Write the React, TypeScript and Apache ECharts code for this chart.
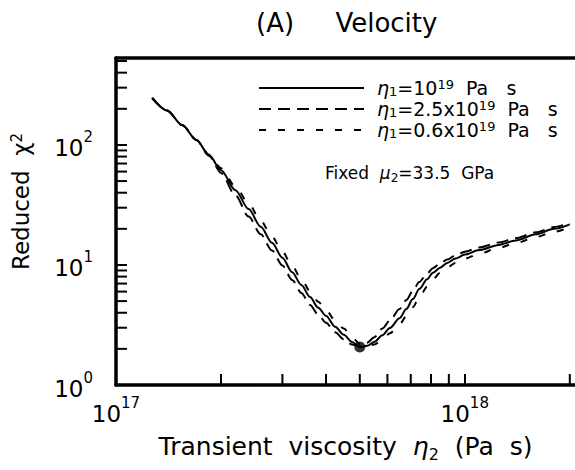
import React, { useEffect, useRef } from "react";
import * as echarts from "echarts";

// Transient viscosity eta_2 (Pa s)
const ETA2 = [
  1.27e17, 1.4e17, 1.55e17, 1.7e17, 1.85e17, 2.0e17, 2.2e17, 2.4e17, 2.6e17, 2.8e17,
  3.0e17, 3.2e17, 3.4e17, 3.6e17, 3.8e17, 4.0e17, 4.25e17, 4.5e17, 4.75e17, 5.0e17,
  5.25e17, 5.5e17, 5.8e17, 6.1e17, 6.5e17, 6.8e17, 7.1e17, 7.4e17, 7.8e17, 8.1e17,
  8.5e17, 8.9e17, 9.4e17, 1.0e18, 1.1e18, 1.25e18, 1.4e18, 1.6e18, 1.8e18, 2.0e18,
];
// Reduced chi^2, eta_1 = 1e19 Pa s (solid)
const CHI_ETA1_1 = [
  246, 194, 146, 110, 82, 61.4, 42, 29.2, 20.8, 15.3,
  11.5, 8.7, 6.8, 5.4, 4.4, 3.77, 3.05, 2.62, 2.28, 2.07,
  2.12, 2.28, 2.6, 2.99, 3.6, 4.3, 5.2, 6.3, 7.6, 8.6,
  9.5, 10.4, 11.3, 12.2, 13.3, 14.7, 16.0, 18.0, 20.0, 21.8,
];
// eta_1 = 2.5e19 Pa s (long dashes)
const CHI_ETA1_2_5 = [
  246, 194, 146, 110, 81, 58.5, 38, 25.3, 18, 13.2,
  9.9, 7.5, 5.85, 4.65, 3.85, 3.3, 2.75, 2.4, 2.17, 2.1,
  2.25, 2.5, 2.95, 3.45, 4.3, 5.1, 6.1, 7.2, 8.5, 9.4,
  10.3, 11.1, 12.0, 12.9, 14.0, 15.4, 16.7, 18.7, 20.7, 22.4,
];
// eta_1 = 0.6e19 Pa s (short dashes)
const CHI_ETA1_0_6 = [
  246, 194, 146, 110, 83, 64, 45, 32.5, 23.3, 17.2,
  12.9, 9.8, 7.6, 6.05, 4.95, 4.2, 3.45, 2.95, 2.5, 2.2,
  2.1, 2.17, 2.38, 2.7, 3.2, 3.75, 4.45, 5.35, 6.6, 7.6,
  8.6, 9.5, 10.4, 11.3, 12.4, 13.9, 15.2, 17.1, 18.9, 20.6,
];
const BEST_FIT = [5.0e17, 2.07];

const SERIES_NAMES = ["eta1=1e19 Pa s", "eta1=2.5e19 Pa s", "eta1=0.6e19 Pa s"];
const LEGEND_LABELS = [
  "{e|η}{sub|1}{t|=10}{sup|19}{t|  Pa   s}",
  "{e|η}{sub|1}{t|=2.5x10}{sup|19}{t|  Pa   s}",
  "{e|η}{sub|1}{t|=0.6x10}{sup|19}{t|  Pa   s}",
];

const X_MIN = 1e17;
const X_MAX = 2.07e18;
const Y_MIN = 1;
const Y_MAX = 530;
const X_MINOR_TICKS = [2e17, 3e17, 4e17, 5e17, 6e17, 7e17, 8e17, 9e17, 2e18];
const Y_MINOR_TICKS = [2, 3, 4, 5, 6, 7, 8, 9, 20, 30, 40, 50, 60, 70, 80, 90, 200, 300, 400, 500];

const FONT = "DejaVu Sans";
const TICK_LEN = 11;

const supLabel = (v: number) => {
  const e = Math.log10(v);
  if (Math.abs(e - Math.round(e)) > 1e-6) return "";
  return `{b|10}{s|${Math.round(e)}}`;
};

export default function App() {
  const ref = useRef<HTMLDivElement>(null);
  useEffect(() => {
    if (!ref.current) return;
    const chart = echarts.init(ref.current, null, { renderer: "svg" });
    const pairs = (ys: number[]) => ETA2.map((x, i) => [x, ys[i]]);
    const lineBase = {
      type: "line" as const,
      showSymbol: false,
      symbol: "none",
      smooth: 0.3,
      smoothMonotone: "x" as const,
      silent: true,
      z: 3,
    };
    const tickLabelRich = {
      b: { fontFamily: FONT, fontSize: 23, color: "#000", lineHeight: 30, verticalAlign: "bottom" as const },
      s: { fontFamily: FONT, fontSize: 15, color: "#000", lineHeight: 20, verticalAlign: "top" as const },
    };
    chart.setOption({
      animation: false,
      backgroundColor: "#fff",
      title: {
        text: "(A)     Velocity",
        left: 251,
        top: 5,
        textStyle: { fontFamily: FONT, fontSize: 26, fontWeight: "normal", color: "#000" },
      },
      grid: { left: 116, right: 0, top: 58, bottom: 85, containLabel: false, outerBoundsMode: "none" },
      legend: {
        data: SERIES_NAMES,
        orient: "vertical",
        left: 253,
        top: 73,
        itemWidth: 105,
        itemHeight: 12,
        itemGap: 1,
        itemStyle: { opacity: 0 },
        formatter: (name: string) => LEGEND_LABELS[SERIES_NAMES.indexOf(name)],
        textStyle: {
          padding: [0, 0, 0, 8],
          rich: {
            e: { fontFamily: FONT, fontSize: 19, fontStyle: "italic", color: "#000", lineHeight: 20 },
            t: { fontFamily: FONT, fontSize: 19, color: "#000", lineHeight: 20 },
            sub: { fontFamily: FONT, fontSize: 13, color: "#000", lineHeight: 12, verticalAlign: "bottom" },
            sup: { fontFamily: FONT, fontSize: 13, color: "#000", lineHeight: 16, verticalAlign: "top" },
          },
        },
      },
      xAxis: [
        {
          type: "log",
          min: X_MIN,
          max: X_MAX,
          logBase: 10,
          name: "Transient  viscosity  {e|η}{sub|2}  (Pa  s)",
          nameLocation: "middle",
          nameGap: 45,
          nameTextStyle: {
            fontFamily: FONT,
            fontSize: 25,
            color: "#000",
            rich: {
              e: { fontFamily: FONT, fontSize: 25, fontStyle: "italic", color: "#000", lineHeight: 32 },
              sub: { fontFamily: FONT, fontSize: 16, color: "#000", lineHeight: 22, verticalAlign: "bottom" },
            },
          },
          axisLine: { show: true, lineStyle: { color: "#000", width: 3.5 } },
          axisTick: { show: true, inside: true, length: TICK_LEN, lineStyle: { color: "#000", width: 2 } },
          axisLabel: { formatter: supLabel, margin: 10, rich: tickLabelRich, showMaxLabel: false },
          splitLine: { show: false },
          minorTick: { show: false },
        },
        {
          type: "log",
          position: "top",
          min: X_MIN,
          max: X_MAX,
          axisLine: { show: true, lineStyle: { color: "#000", width: 3.5 } },
          axisTick: { show: false },
          axisLabel: { show: false },
          splitLine: { show: false },
        },
      ],
      yAxis: {
        type: "log",
        min: Y_MIN,
        max: Y_MAX,
        logBase: 10,
        name: "Reduced  χ{sup|2}",
        nameLocation: "middle",
        nameGap: 84,
        nameTextStyle: {
          fontFamily: FONT,
          fontSize: 23,
          color: "#000",
          padding: [0, 0, 0, 40],
          rich: {
            sup: { fontFamily: FONT, fontSize: 15, color: "#000", lineHeight: 22, verticalAlign: "top" },
          },
        },
        axisLine: { show: true, lineStyle: { color: "#000", width: 3.5 } },
        axisTick: { show: true, inside: true, length: TICK_LEN, lineStyle: { color: "#000", width: 2 } },
        axisLabel: { formatter: supLabel, margin: 23, rich: tickLabelRich, showMaxLabel: false },
        splitLine: { show: false },
      },
      series: [
        {
          ...lineBase,
          name: SERIES_NAMES[0],
          data: pairs(CHI_ETA1_1),
          lineStyle: { color: "#000", width: 2, type: "solid" },
          itemStyle: { color: "#000" },
        },
        {
          ...lineBase,
          name: SERIES_NAMES[1],
          data: pairs(CHI_ETA1_2_5),
          lineStyle: { color: "#000", width: 2, type: [12, 7] },
          itemStyle: { color: "#000" },
        },
        {
          ...lineBase,
          name: SERIES_NAMES[2],
          data: pairs(CHI_ETA1_0_6),
          lineStyle: { color: "#000", width: 2, type: [7, 12] },
          itemStyle: { color: "#000" },
        },
        {
          type: "scatter",
          name: "best",
          data: [BEST_FIT],
          symbolSize: 11,
          itemStyle: { color: "#000" },
          silent: true,
          z: 4,
        },
        {
          type: "custom",
          name: "yMinorTicks",
          silent: true,
          clip: false,
          z: 5,
          data: Y_MINOR_TICKS.map((v) => [X_MIN, v]),
          renderItem: (_p: any, api: any) => {
            const p = api.coord([api.value(0), api.value(1)]);
            return {
              type: "line",
              shape: { x1: p[0], y1: p[1], x2: p[0] + TICK_LEN, y2: p[1] },
              style: { stroke: "#000", lineWidth: 2 },
            };
          },
        },
        {
          type: "custom",
          name: "xMinorTicks",
          silent: true,
          clip: false,
          z: 5,
          data: X_MINOR_TICKS.map((v) => [v, Y_MIN]),
          renderItem: (_p: any, api: any) => {
            const p = api.coord([api.value(0), api.value(1)]);
            return {
              type: "line",
              shape: { x1: p[0], y1: p[1], x2: p[0], y2: p[1] - TICK_LEN },
              style: { stroke: "#000", lineWidth: 2 },
            };
          },
        },
      ],
      graphic: [
        {
          type: "text",
          x: 325,
          y: 173,
          style: {
            text: "{t|Fixed  }{e|μ}{sub|2}{t|=33.5  GPa}",
            verticalAlign: "middle",
            rich: {
              t: { fontFamily: FONT, fontSize: 17, fill: "#000", lineHeight: 22 },
              e: { fontFamily: FONT, fontSize: 17, fontStyle: "italic", fill: "#000", lineHeight: 22 },
              sub: { fontFamily: FONT, fontSize: 12, fill: "#000", lineHeight: 14, verticalAlign: "bottom" },
            },
          },
        },
      ],
    });
    return () => chart.dispose();
  }, []);
  return <div ref={ref} style={{ width: 575, height: 470, position: "absolute", left: 0, top: 0 }} />;
}
